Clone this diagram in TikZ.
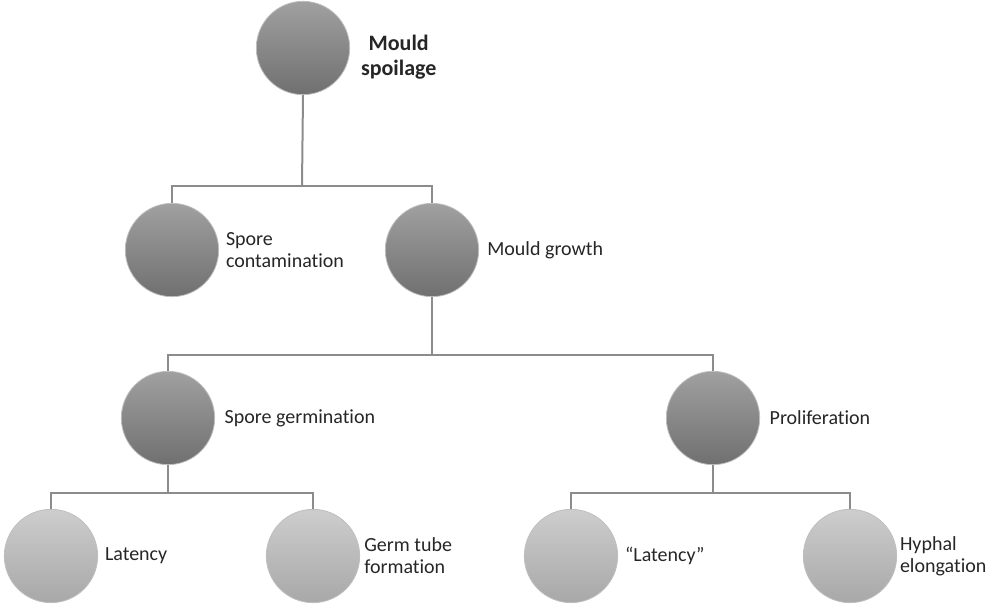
\documentclass[tikz,border=0pt]{standalone}
\usepackage{fontspec}
\setmainfont{Carlito}[RawFeature=-liga]
\usetikzlibrary{positioning}
\definecolor{linegray}{RGB}{140,140,140}
\definecolor{rimgray}{RGB}{190,190,190}
\definecolor{txtgray}{RGB}{38,38,38}
\tikzset{
  darkball/.style={circle, inner sep=0pt, minimum size=70pt, draw=rimgray, line width=0.6pt,
    top color={rgb,255:red,160;green,160;blue,160}, bottom color={rgb,255:red,112;green,112;blue,112}},
  lightball/.style={circle, inner sep=0pt, minimum size=70pt, draw=rimgray, line width=0.6pt,
    top color={rgb,255:red,205;green,205;blue,205}, bottom color={rgb,255:red,168;green,168;blue,168}},
  txt/.style={font=\fontsize{15}{16.5}\selectfont, text=txtgray, align=left, inner sep=0pt},
  conn/.style={draw=linegray, line width=1.5pt}
}
\begin{document}
\begin{tikzpicture}[x=0.75pt,y=0.75pt,yscale=-1,xscale=1]
		\useasboundingbox (0,0) rectangle (988,610);

		% Bars
		\coordinate (b1) at (302,186);
		\coordinate (b2) at (432,355);
		\coordinate (b3) at (168,493);
		\coordinate (b4) at (713,493);

		% Circles
		\node [darkball] (root) at (303,48) {};
		\node [darkball] (sc) at (172,250) {};
		\node [darkball] (mg) at (432,250) {};
		\node [darkball] (sg) at (168,418) {};
		\node [darkball] (pr) at (713,418) {};
		\node [lightball] (la) at (51,556) {};
		\node [lightball] (gt) at (313,556) {};
		\node [lightball] (lq) at (571,556) {};
		\node [lightball] (he) at (850,556) {};

		% Connectors
		\draw [conn] (root.south) -- (b1);
		\draw [conn] (sc.north) |- (b1) -| (mg.north);
		\draw [conn] (mg.south) -- (b2);
		\draw [conn] (sg.north) |- (b2) -| (pr.north);
		\draw [conn] (sg.south) -- (b3);
		\draw [conn] (la.north) |- (b3) -| (gt.north);
		\draw [conn] (pr.south) -- (b4);
		\draw [conn] (lq.north) |- (b4) -| (he.north);

		% Text Node
		\node [txt, font=\fontsize{16.5}{19}\selectfont\bfseries, align=center, right=8pt of root, yshift=-7pt] (roott) {Mould\\spoilage};
		\node [txt, right=5pt of sc] (sct) {Spore\\contamination};
		\node [txt, right=6pt of mg] (mgt) {Mould growth};
		\node [txt, right=7pt of sg] (sgt) {Spore germination};
		\node [txt, right=7pt of pr] (prt) {Proliferation};
		\node [txt, right=5pt of la] (lat) {Latency};
		\node [txt, right=3pt of gt] (gtt) {Germ tube\\formation};
		\node [txt, right=5pt of lq] (lqt) {“Latency”};
		\node [txt, right=2pt of he] (het) {Hyphal\\elongation};
\end{tikzpicture}
\end{document}
